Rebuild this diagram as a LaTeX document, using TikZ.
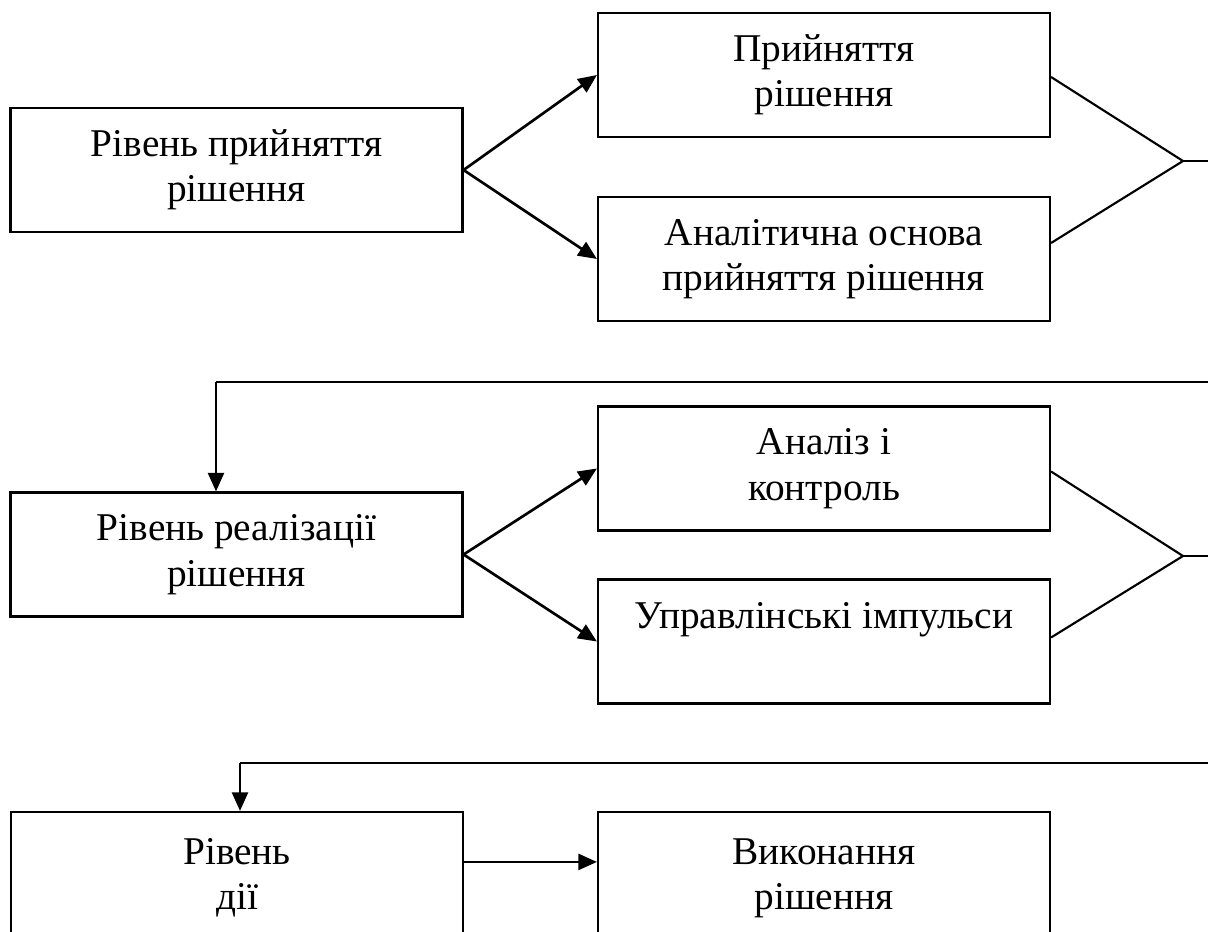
\documentclass[tikz,border=0pt]{standalone}
\usepackage{fontspec}
\setmainfont{Liberation Serif}
\usetikzlibrary{arrows.meta,calc}
\begin{document}
\begin{tikzpicture}[x=0.75pt,y=-0.75pt,
  box/.style={draw, line width=1.6pt, minimum width=339pt, minimum height=93pt, inner sep=0pt, align=center, font=\fontsize{29.5}{34}\selectfont},
  txt/.style={inner sep=0pt, align=center, font=\fontsize{29.5}{34}\selectfont},
  arr/.style={line width=2pt, -{Triangle[length=14pt,width=12pt]}},
  ln/.style={line width=1.6pt}]
\useasboundingbox (0,0) rectangle (1208,932);
\clip (0,0) rectangle (1208,932);

% top group
\node[box] (L1) at (236.5,170) {Рівень прийняття\\рішення};
\node[box] (R1) at (824,75) {Прийняття\\рішення};
\node[box] (R2) at (824,259) {Аналітична основа\\прийняття рішення};
\coordinate (M1) at (1183,161);
\coordinate (E1) at (1208,161);
\draw[arr] (L1.east) -- (R1.west);
\draw[arr] (L1.east) -- (R2.west);
\draw[ln] ($(R1.east)+(0,2)$) -- (M1) -- ($(R2.east)+(0,-16)$);
\draw[ln] (M1) -- (E1);

% feedback 1
\coordinate (F1a) at (1208,382);
\coordinate (F1b) at (216,382);

% middle group
\node[box] (L2) at (236.5,554.5) {Рівень реалізації\\рішення};
\node[box] (R3) at (824,468.5) {Аналіз і\\контроль};
\node[box] (R4) at (824,641.5) {};
\node[txt] (R4t) at (824,620) {Управлінські імпульси};
\coordinate (M2) at (1183,556);
\coordinate (E2) at (1208,556);
\draw[ln] (F1a) -- (F1b);
\draw[arr] (F1b) -- (F1b |- L2.north);
\draw[arr] (L2.east) -- (R3.west);
\draw[arr] (L2.east) -- (R4.west);
\draw[ln] ($(R3.east)+(0,3)$) -- (M2) -- ($(R4.east)+(0,-4)$);
\draw[ln] (M2) -- (E2);

% feedback 2
\coordinate (F2a) at (1208,763);
\coordinate (F2b) at (240,763);

% bottom group
\node[box, minimum height=120pt] (L3) at (237,892) {};
\node[txt] (L3t) at (237,878) {Рівень\\дії};
\node[box, minimum height=120pt] (R5) at (824,892) {};
\node[txt] (R5t) at (824,878) {Виконання\\рішення};
\draw[ln] (F2a) -- (F2b);
\draw[arr] (F2b) -- (F2b |- L3.north);
\draw[arr] ($(L3.north east)+(0,51)$) -- ($(R5.north west)+(0,51)$);
\end{tikzpicture}
\end{document}
